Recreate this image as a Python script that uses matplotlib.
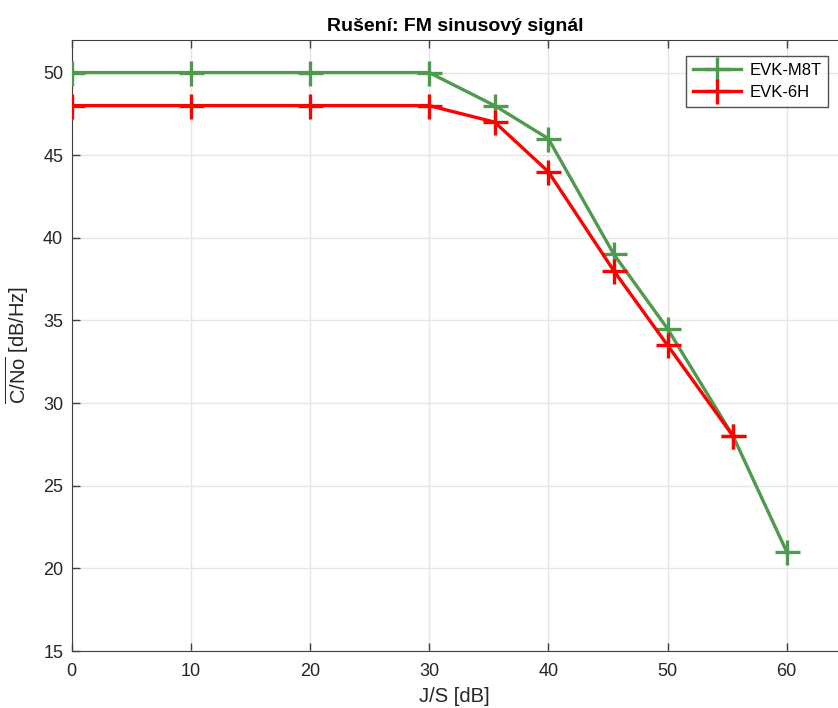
import numpy as np
import matplotlib.pyplot as plt

plt.rcParams['font.family'] = ['Liberation Sans', 'DejaVu Sans']
plt.rcParams['mathtext.fontset'] = 'custom'
plt.rcParams['mathtext.rm'] = 'Liberation Sans'

# Données
js_m8t = [0, 10, 20, 30, 35.5, 40, 45.5, 50, 55.5, 60]
cno_m8t = [50, 50, 50, 50, 48, 46, 39, 34.5, 28, 21]
js_6h = [0, 10, 20, 30, 35.5, 40, 45.5, 50, 55.5]
cno_6h = [48, 48, 48, 48, 47, 44, 38, 33.5, 28]
xticks = [0, 10, 20, 30, 40, 50, 60]
yticks = [15, 20, 25, 30, 35, 40, 45, 50]

fig = plt.figure(figsize=(8.38, 7.08), dpi=100)
ax = fig.add_axes([71.5 / 838, 57 / 708, 1 - 71.5 / 838, 611.5 / 708])

ax.plot(js_m8t, cno_m8t, color='#4f9a4f', lw=2.4, marker='+', ms=18, mew=2.4,
        label='EVK-M8T', zorder=3)
ax.plot(js_6h, cno_6h, color='#ff0000', lw=2.4, marker='+', ms=18, mew=2.4,
        label='EVK-6H', zorder=3)

ax.set_xlim(0, 64.3)
ax.set_ylim(15, 52)
ax.set_xticks(xticks)
ax.set_yticks(yticks)
ax.grid(True, color='#e6e6e6', lw=1)
ax.set_axisbelow(True)
ax.tick_params(direction='in', length=6, width=1, color='#404040',
               labelsize=13, labelcolor='#262626', top=True)
ax.tick_params(axis='x', pad=9)
ax.tick_params(axis='y', pad=6)
for s in ['left', 'bottom', 'top']:
    ax.spines[s].set_color('#404040')
ax.spines['right'].set_visible(False)

ax.set_title('Rušení: FM sinusový signál', fontsize=14, fontweight='bold', pad=6)
ax.set_xlabel('J/S [dB]', fontsize=14.5, color='#262626', labelpad=5)
ax.set_ylabel(r'$\overline{\mathrm{C/No}}$ [dB/Hz]', fontsize=14.5, color='#262626', labelpad=9)

leg = ax.legend(loc='upper right', bbox_to_anchor=(0.987, 0.973), borderaxespad=0,
                fontsize=12, frameon=True, fancybox=False,
                edgecolor='#262626', handlelength=2.9,
                labelspacing=0.45, handletextpad=0.5, borderpad=0.4)
leg.get_frame().set_linewidth(1)

fig.savefig('out.png', dpi=100)
